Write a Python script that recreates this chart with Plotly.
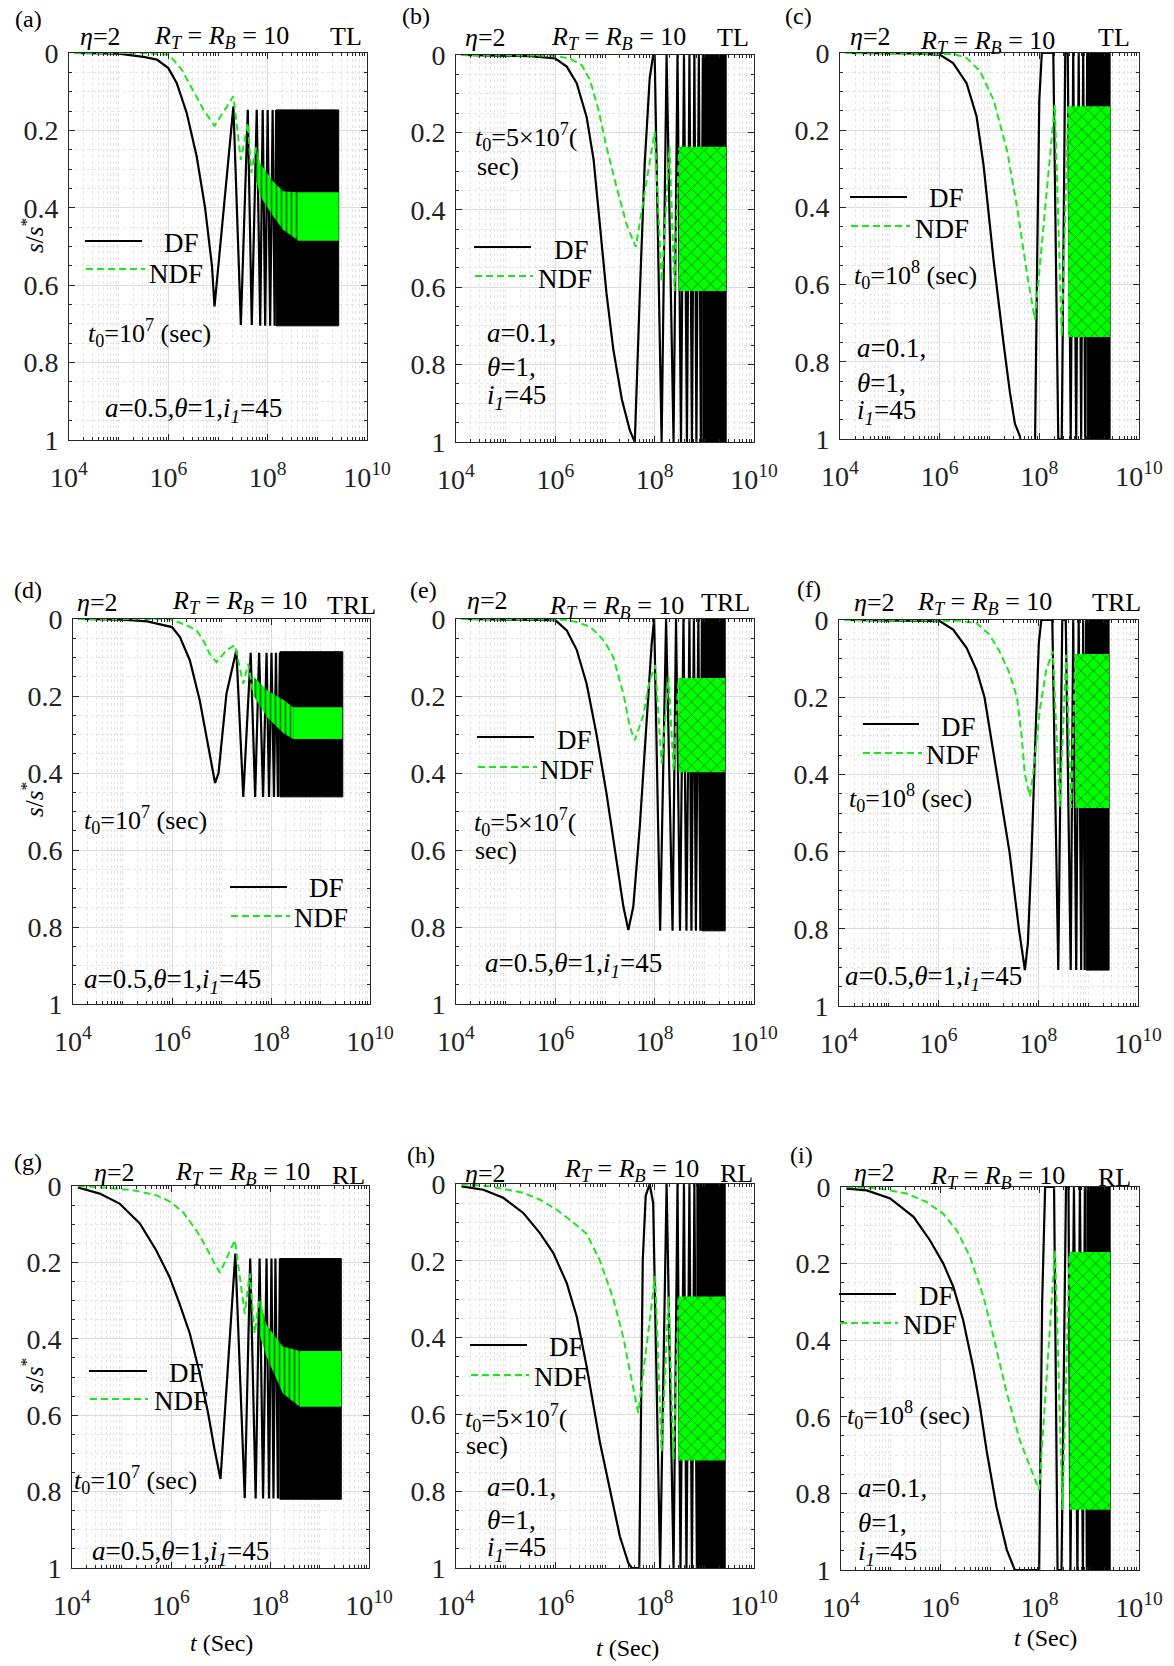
import plotly.graph_objects as go

W, H = 1174, 1666

# ================= DATA (x = log10 of t in sec, y = s/s*) =================
# ---- (a) TL, t0=1e7, a=0.5
df_a_logt = [4.1, 5.0, 5.5, 5.77, 6.0, 6.17, 6.37, 6.57, 6.74, 6.88, 6.93, 7.31, 7.46, 7.60, 7.68, 7.78, 7.85, 7.90, 7.95, 8.00, 8.05, 8.10, 8.14, 8.17]
df_a_s = [0.0, 0.002, 0.01, 0.017, 0.039, 0.078, 0.155, 0.267, 0.40, 0.552, 0.655, 0.138, 0.703, 0.147, 0.703, 0.147, 0.705, 0.147, 0.705, 0.147, 0.705, 0.147, 0.705, 0.147]
df_a_block = [8.17, 9.43, 0.147, 0.705]
ndf_a_logt = [4.1, 5.5, 6.0, 6.1, 6.27, 6.47, 6.71, 6.93, 7.31, 7.46, 7.60, 7.67, 7.77]
ndf_a_s = [0.0, 0.0, 0.004, 0.017, 0.043, 0.09, 0.147, 0.188, 0.112, 0.276, 0.181, 0.31, 0.24]
ndf_a_band_logt = [7.77, 7.85, 8.1, 8.31, 8.6]
ndf_a_band_top = [0.24, 0.285, 0.33, 0.357, 0.36]
ndf_a_band_bot = [0.33, 0.37, 0.42, 0.457, 0.483]
ndf_a_solid = [8.6, 9.43, 0.36, 0.485]

# ---- (b) TL, t0=5e7, a=0.1
df_b_logt = [4.1, 5.0, 5.5, 6.0, 6.23, 6.43, 6.63, 6.77, 6.9, 7.03, 7.17, 7.34, 7.5, 7.6, 7.7, 7.8, 7.9, 7.97, 8.0, 8.14, 8.24, 8.38, 8.46, 8.53, 8.59, 8.65, 8.70, 8.75, 8.80, 8.84, 8.89, 8.93, 8.97]
df_b_s = [0.0, 0.001, 0.003, 0.009, 0.03, 0.073, 0.16, 0.27, 0.44, 0.616, 0.763, 0.89, 0.97, 1.0, 0.62, 0.28, 0.06, 0.0, 0.0, 1.0, 0.0, 1.0, 0.0, 1.0, 0.0, 1.0, 0.0, 1.0, 0.0, 1.0, 0.0, 1.0, 0.0]
df_b_block = [8.97, 9.44, 0.0, 1.0]
ndf_b_logt = [4.1, 6.0, 6.29, 6.53, 6.7, 6.87, 7.03, 7.23, 7.44, 7.62, 8.0, 8.14, 8.3, 8.40, 8.49]
ndf_b_s = [0.0, 0.002, 0.009, 0.026, 0.065, 0.142, 0.237, 0.34, 0.44, 0.496, 0.198, 0.586, 0.237, 0.61, 0.24]
ndf_b_band = [8.49, 9.44, 0.237, 0.61]

# ---- (c) TL, t0=1e8, a=0.1
df_c_logt = [4.1, 5.5, 6.0, 6.27, 6.54, 6.74, 6.88, 7.08, 7.28, 7.41, 7.51, 7.61, 7.65, 7.91, 7.96, 8.0, 8.05, 8.28, 8.38, 8.45, 8.52, 8.57, 8.63, 8.68, 8.74, 8.79, 8.84, 8.88, 8.92, 8.96]
df_c_s = [0.0, 0.001, 0.004, 0.026, 0.078, 0.164, 0.29, 0.535, 0.75, 0.88, 0.96, 0.993, 1.05, 1.05, 0.5, 0.12, 0.0, 0.0, 1.0, 1.0, 0.0, 0.0, 1.0, 0.0, 1.0, 0.0, 1.0, 0.0, 1.0, 0.0]
df_c_block = [8.96, 9.42, 0.0, 1.0]
ndf_c_logt = [4.1, 6.3, 6.54, 6.81, 7.08, 7.35, 7.55, 7.75, 7.91, 8.31, 8.45, 8.58]
ndf_c_s = [0.0, 0.003, 0.013, 0.047, 0.121, 0.251, 0.397, 0.57, 0.69, 0.134, 0.734, 0.138]
ndf_c_band = [8.58, 9.42, 0.138, 0.736]

# ---- (d) TRL, t0=1e7, a=0.5
df_d_logt = [4.1, 5.0, 5.5, 6.0, 6.16, 6.36, 6.56, 6.7, 6.8, 6.87, 6.94, 7.1, 7.3, 7.44, 7.59, 7.68, 7.76, 7.84, 7.91, 7.96, 8.01, 8.06, 8.10, 8.14, 8.18]
df_d_s = [0.0, 0.002, 0.006, 0.021, 0.047, 0.107, 0.211, 0.306, 0.384, 0.426, 0.40, 0.194, 0.081, 0.462, 0.088, 0.462, 0.088, 0.462, 0.088, 0.462, 0.088, 0.462, 0.088, 0.462, 0.088]
df_d_block = [8.18, 9.45, 0.085, 0.462]
ndf_d_logt = [4.1, 5.9, 6.02, 6.29, 6.5, 6.63, 6.76, 6.9, 7.1, 7.27, 7.44, 7.54, 7.65]
ndf_d_s = [0.0, 0.0, 0.003, 0.016, 0.03, 0.055, 0.09, 0.112, 0.081, 0.068, 0.168, 0.116, 0.2]
ndf_d_band_logt = [7.65, 7.92, 8.25, 8.45]
ndf_d_band_top = [0.15, 0.185, 0.21, 0.229]
ndf_d_band_bot = [0.2, 0.255, 0.297, 0.312]
ndf_d_solid = [8.45, 9.44, 0.229, 0.312]

# ---- (e) TRL, t0=5e7, a=0.5
df_e_logt = [4.1, 5.0, 5.7, 6.0, 6.23, 6.43, 6.63, 6.83, 7.03, 7.23, 7.37, 7.47, 7.57, 7.7, 7.84, 7.94, 7.99, 8.11, 8.23, 8.36, 8.43, 8.51, 8.58, 8.64, 8.70, 8.74, 8.79, 8.83, 8.88, 8.92, 8.95]
df_e_s = [0.0, 0.001, 0.002, 0.003, 0.03, 0.08, 0.168, 0.3, 0.453, 0.626, 0.747, 0.808, 0.747, 0.54, 0.263, 0.064, 0.0, 0.81, 0.0, 0.81, 0.0, 0.81, 0.0, 0.81, 0.0, 0.81, 0.0, 0.81, 0.0, 0.81, 0.0]
df_e_block = [8.95, 9.42, 0.0, 0.81]
ndf_e_logt = [4.1, 6.2, 6.43, 6.7, 6.9, 7.0, 7.17, 7.38, 7.5, 7.6, 7.77, 7.9, 8.01, 8.14, 8.28, 8.38, 8.48]
ndf_e_s = [0.0, 0.002, 0.008, 0.02, 0.045, 0.06, 0.1, 0.2, 0.28, 0.315, 0.25, 0.16, 0.12, 0.375, 0.15, 0.393, 0.153]
ndf_e_band = [8.48, 9.42, 0.153, 0.398]

# ---- (f) TRL, t0=1e8, a=0.5
df_f_logt = [4.1, 5.5, 6.02, 6.29, 6.56, 6.76, 6.92, 7.17, 7.42, 7.61, 7.73, 7.79, 7.86, 7.95, 8.01, 8.06, 8.28, 8.40, 8.48, 8.55, 8.65, 8.70, 8.76, 8.81, 8.86, 8.90, 8.93, 8.96]
df_f_s = [0.0, 0.001, 0.003, 0.025, 0.072, 0.13, 0.2, 0.4, 0.6, 0.8, 0.907, 0.837, 0.62, 0.276, 0.06, 0.0, 0.0, 0.907, 0.0, 0.0, 0.907, 0.0, 0.907, 0.0, 0.907, 0.0, 0.907, 0.0]
df_f_block = [8.96, 9.42, 0.0, 0.907]
ndf_f_logt = [4.1, 6.4, 6.76, 7.02, 7.22, 7.42, 7.57, 7.66, 7.73, 7.83, 7.89, 8.03, 8.16, 8.29, 8.43, 8.56, 8.66, 8.74]
ndf_f_s = [0.0, 0.002, 0.008, 0.038, 0.081, 0.137, 0.2, 0.294, 0.40, 0.457, 0.405, 0.232, 0.129, 0.081, 0.483, 0.09, 0.487, 0.088]
ndf_f_band = [8.74, 9.42, 0.088, 0.487]

# ---- (g) RL, t0=1e7, a=0.5
df_g_logt = [4.12, 4.56, 4.96, 5.37, 5.7, 5.97, 6.17, 6.38, 6.58, 6.75, 6.88, 7.0, 7.3, 7.49, 7.6, 7.71, 7.79, 7.86, 7.93, 7.98, 8.03, 8.07, 8.11, 8.16, 8.2]
df_g_s = [0.004, 0.02, 0.046, 0.098, 0.168, 0.238, 0.307, 0.386, 0.49, 0.595, 0.69, 0.767, 0.177, 0.817, 0.19, 0.818, 0.19, 0.818, 0.19, 0.818, 0.19, 0.818, 0.19, 0.818, 0.19]
df_g_block = [8.2, 9.44, 0.19, 0.82]
ndf_g_logt = [4.12, 4.56, 5.23, 5.7, 5.97, 6.24, 6.51, 6.71, 6.88, 6.99, 7.29, 7.49, 7.59, 7.69, 7.79]
ndf_g_s = [0.0, 0.003, 0.011, 0.024, 0.04, 0.068, 0.116, 0.16, 0.203, 0.227, 0.142, 0.334, 0.229, 0.386, 0.29]
ndf_g_band_logt = [7.79, 7.93, 8.26, 8.6]
ndf_g_band_top = [0.29, 0.364, 0.42, 0.432]
ndf_g_band_bot = [0.39, 0.447, 0.543, 0.578]
ndf_g_solid = [8.6, 9.44, 0.432, 0.578]

# ---- (h) RL, t0=5e7, a=0.1
df_h_logt = [4.11, 4.55, 4.95, 5.36, 5.69, 5.96, 6.23, 6.43, 6.63, 6.77, 6.9, 7.1, 7.3, 7.47, 7.54, 7.69, 7.72, 7.76, 7.82, 7.9, 7.97, 8.11, 8.24, 8.38, 8.46, 8.52, 8.59, 8.64, 8.70, 8.75, 8.80, 8.85]
df_h_s = [0.006, 0.015, 0.036, 0.076, 0.128, 0.18, 0.258, 0.345, 0.475, 0.579, 0.674, 0.796, 0.918, 0.987, 1.0, 1.0, 0.6, 0.2, 0.03, 0.0, 0.05, 1.0, 0.0, 1.0, 0.0, 1.0, 0.0, 1.0, 0.0, 1.0, 0.0, 1.0]
df_h_block = [8.85, 9.42, 0.0, 1.0]
ndf_h_logt = [4.11, 4.68, 5.36, 5.69, 6.03, 6.36, 6.63, 6.9, 7.17, 7.37, 7.52, 7.67, 8.01, 8.14, 8.28, 8.38, 8.48]
ndf_h_s = [0.0, 0.006, 0.023, 0.041, 0.067, 0.1, 0.13, 0.2, 0.3, 0.4, 0.5, 0.596, 0.24, 0.696, 0.293, 0.718, 0.293]
ndf_h_band = [8.48, 9.42, 0.293, 0.72]

# ---- (i) RL, t0=1e8, a=0.1
df_i_logt = [4.11, 4.52, 4.99, 5.46, 5.79, 6.06, 6.26, 6.46, 6.66, 6.8, 6.93, 7.13, 7.34, 7.5, 7.99, 8.05, 8.11, 8.29, 8.36, 8.44, 8.53, 8.58, 8.62, 8.69, 8.76, 8.81, 8.87, 8.91, 8.95]
df_i_s = [0.004, 0.009, 0.03, 0.078, 0.139, 0.2, 0.26, 0.348, 0.47, 0.574, 0.687, 0.835, 0.948, 1.0, 1.0, 0.3, 0.0, 0.0, 1.0, 1.0, 0.0, 0.0, 1.0, 0.0, 1.0, 0.0, 1.0, 0.0, 1.0]
df_i_block = [8.95, 9.42, 0.0, 1.0]
ndf_i_logt = [4.11, 4.79, 5.32, 5.72, 6.06, 6.33, 6.6, 6.87, 7.07, 7.34, 7.6, 7.87, 7.99, 8.31, 8.46, 8.6]
ndf_i_s = [0.0, 0.004, 0.017, 0.039, 0.07, 0.113, 0.183, 0.287, 0.391, 0.539, 0.661, 0.748, 0.791, 0.165, 0.843, 0.174]
ndf_i_band = [8.6, 9.42, 0.17, 0.843]

# tick labels
x_tickvals = [1e4, 1e6, 1e8, 1e10]
x_ticktext = ["10<sup>4</sup>", "10<sup>6</sup>", "10<sup>8</sup>", "10<sup>10</sup>"]
y_tickvals = [0, 0.2, 0.4, 0.6, 0.8, 1]
y_ticktext = ["0", "0.2", "0.4", "0.6", "0.8", "1"]

# ================= LAYOUT HELPERS =================
FONT = "Liberation Serif, Times New Roman, serif"
GREEN_LINE = "#1ee61e"
GREEN_FILL = "#00ff00"
AX = "#262626"

def px(x):
    return x / W

def py(y):
    return 1 - y / H

# panel domains in pixels: left, right, top, bottom
domains = [
    (69, 367, 53, 440), (456, 754, 55, 442), (840, 1139, 53, 439),
    (73, 370, 619, 1004), (456, 754, 619, 1004), (839, 1138, 620, 1006),
    (72, 369, 1186, 1568), (456, 754, 1184, 1568), (841, 1139, 1187, 1570),
]

panels = [
    dict(df=(df_a_logt, df_a_s), blk=df_a_block, ndf=(ndf_a_logt, ndf_a_s),
         trans=(ndf_a_band_logt, ndf_a_band_top, ndf_a_band_bot), solid=ndf_a_solid, band=None),
    dict(df=(df_b_logt, df_b_s), blk=df_b_block, ndf=(ndf_b_logt, ndf_b_s), trans=None, solid=None, band=ndf_b_band),
    dict(df=(df_c_logt, df_c_s), blk=df_c_block, ndf=(ndf_c_logt, ndf_c_s), trans=None, solid=None, band=ndf_c_band),
    dict(df=(df_d_logt, df_d_s), blk=df_d_block, ndf=(ndf_d_logt, ndf_d_s),
         trans=(ndf_d_band_logt, ndf_d_band_top, ndf_d_band_bot), solid=ndf_d_solid, band=None),
    dict(df=(df_e_logt, df_e_s), blk=df_e_block, ndf=(ndf_e_logt, ndf_e_s), trans=None, solid=None, band=ndf_e_band),
    dict(df=(df_f_logt, df_f_s), blk=df_f_block, ndf=(ndf_f_logt, ndf_f_s), trans=None, solid=None, band=ndf_f_band),
    dict(df=(df_g_logt, df_g_s), blk=df_g_block, ndf=(ndf_g_logt, ndf_g_s),
         trans=(ndf_g_band_logt, ndf_g_band_top, ndf_g_band_bot), solid=ndf_g_solid, band=None),
    dict(df=(df_h_logt, df_h_s), blk=df_h_block, ndf=(ndf_h_logt, ndf_h_s), trans=None, solid=None, band=ndf_h_band),
    dict(df=(df_i_logt, df_i_s), blk=df_i_block, ndf=(ndf_i_logt, ndf_i_s), trans=None, solid=None, band=ndf_i_band),
]

def poly(xs_log, top, bot):
    xs = [10 ** v for v in xs_log] + [10 ** v for v in reversed(xs_log)]
    ys = list(top) + list(reversed(bot))
    return xs + [xs[0]], ys + [ys[0]]

def rect(b):
    x0, x1, t, bm = b
    return poly([x0, x1], [t, t], [bm, bm])

minor_x = []
for e in range(4, 10):
    for d in range(1, 10):
        v = d * 10 ** e
        if d == 1 and e % 2 == 0:
            continue
        minor_x.append(v)

fig = go.Figure()

for i, p in enumerate(panels):
    n = i + 1
    xa = "x" if n == 1 else f"x{n}"
    ya = "y" if n == 1 else f"y{n}"
    common = dict(xaxis=xa, yaxis=ya, hoverinfo="skip", showlegend=False)
    # DF oscillation block
    bx, by = rect(p["blk"])
    fig.add_trace(go.Scatter(x=bx, y=by, mode="lines", fill="toself", fillcolor="black",
                             line=dict(color="black", width=1), **common))
    # DF line
    fig.add_trace(go.Scatter(x=[10 ** v for v in p["df"][0]], y=p["df"][1], mode="lines",
                             line=dict(color="black", width=2.2), **common))
    # NDF bands
    if p["trans"] is not None:
        tx, ty = poly(*p["trans"])
        fig.add_trace(go.Scatter(x=tx, y=ty, mode="lines", fill="toself", fillcolor=GREEN_FILL,
                                 fillpattern=dict(shape="|", fgcolor="black", bgcolor=GREEN_FILL,
                                                  size=5, solidity=0.35),
                                 line=dict(width=0, color=GREEN_FILL), **common))
        sx, sy = rect(p["solid"])
        fig.add_trace(go.Scatter(x=sx, y=sy, mode="lines", fill="toself", fillcolor=GREEN_FILL,
                                 line=dict(width=0, color=GREEN_FILL), **common))
    if p["band"] is not None:
        bx2, by2 = rect(p["band"])
        fig.add_trace(go.Scatter(x=bx2, y=by2, mode="lines", fill="toself", fillcolor=GREEN_FILL,
                                 fillpattern=dict(shape="x", fgcolor="black", bgcolor=GREEN_FILL,
                                                  size=9, solidity=0.18),
                                 line=dict(width=0, color=GREEN_FILL), **common))
    # NDF line
    fig.add_trace(go.Scatter(x=[10 ** v for v in p["ndf"][0]], y=p["ndf"][1], mode="lines",
                             line=dict(color=GREEN_LINE, width=2, dash="7px,4px"), **common))

    l, r, t, b = domains[i]
    xkey = "xaxis" if n == 1 else f"xaxis{n}"
    ykey = "yaxis" if n == 1 else f"yaxis{n}"
    fig.layout[xkey] = dict(
        type="log", range=[4, 10], domain=[px(l), px(r)], anchor=ya, automargin=False,
        tickmode="array", tickvals=x_tickvals, ticktext=x_ticktext,
        ticks="inside", ticklen=6, tickwidth=1, tickcolor=AX,
        showline=True, linecolor=AX, linewidth=1, mirror="ticks",
        showgrid=True, gridcolor="#dcdcdc", gridwidth=1, zeroline=False,
        tickfont=dict(family=FONT, size=28, color="#222222"),
        ticklabelstandoff=12,
        minor=dict(tickmode="array", tickvals=minor_x, ticks="inside", ticklen=3, tickcolor=AX,
                   showgrid=True, gridcolor="#e4e4e4", griddash="dot", gridwidth=1),
    )
    fig.layout[ykey] = dict(
        range=[1, 0], domain=[py(b), py(t)], anchor=xa, automargin=False,
        tickmode="array", tickvals=y_tickvals, ticktext=y_ticktext,
        ticks="inside", ticklen=6, tickwidth=1, tickcolor=AX,
        showline=True, linecolor=AX, linewidth=1, mirror="ticks",
        showgrid=True, gridcolor="#dcdcdc", gridwidth=1, zeroline=False,
        tickfont=dict(family=FONT, size=28, color="#222222"),
        ticklabelstandoff=4,
        minor=dict(dtick=0.05, tick0=0, ticks="inside", ticklen=3, tickcolor=AX,
                   showgrid=True, gridcolor="#e4e4e4", griddash="dot", gridwidth=1),
    )

# ================= TEXT =================
ETA = "<i>η</i>=2"
RTB = "<i>R<sub>T</sub></i> = <i>R<sub>B</sub></i> = 10"
T07 = "<i>t</i><sub>0</sub>=10<sup>7</sup> (sec)"
T08 = "<i>t</i><sub>0</sub>=10<sup>8</sup> (sec)"
T57 = "<i>t</i><sub>0</sub>=5×10<sup>7</sup>("
SEC = "sec)"
P05 = "<i>a</i>=0.5,<i>θ</i>=1,<i>i</i><sub><i>1</i></sub>=45"
A01 = "<i>a</i>=0.1,"
TH1 = "<i>θ</i>=1,"
I45 = "<i>i</i><sub><i>1</i></sub>=45"

HS, LS, TS, PS, LBL = 26, 27, 26, 27, 24  # header, legend, t0, params, panel letter sizes

texts = [
    # (a)
    ("(a)", 13, 19, "left", LBL), (ETA, 78, 37, "left", HS), (RTB, 152, 37, "left", HS), ("TL", 364, 37, "right", HS),
    ("DF", 162, 243, "left", LS), ("NDF", 147, 274, "left", LS), (T07, 86, 333, "left", TS), (P05, 103, 410, "left", PS),
    # (b)
    ("(b)", 400, 16, "left", LBL), (ETA, 463, 38, "left", HS), (RTB, 549, 38, "left", HS), ("TL", 751, 38, "right", HS),
    (T57, 473, 137, "left", TS), (SEC, 475, 166, "left", TS), ("DF", 552, 250, "left", LS), ("NDF", 536, 279, "left", LS),
    (A01, 485, 333, "left", PS), (TH1, 485, 367, "left", PS), (I45, 485, 397, "left", PS),
    # (c)
    ("(c)", 783, 16, "left", LBL), (ETA, 848, 37, "left", HS), (RTB, 918, 42, "left", HS), ("TL", 1132, 38, "right", HS),
    ("DF", 927, 198, "left", LS), ("NDF", 913, 229, "left", LS), (T08, 852, 275, "left", TS),
    (A01, 855, 348, "left", PS), (TH1, 855, 383, "left", PS), (I45, 855, 412, "left", PS),
    # (d)
    ("(d)", 12, 590, "left", LBL), (ETA, 75, 602, "left", HS), (RTB, 170, 602, "left", HS), ("TRL", 378, 605, "right", HS),
    (T07, 82, 820, "left", TS), ("DF", 307, 888, "left", LS), ("NDF", 292, 918, "left", LS), (P05, 82, 981, "left", PS),
    # (e)
    ("(e)", 408, 590, "left", LBL), (ETA, 465, 600, "left", HS), (RTB, 547, 607, "left", HS), ("TRL", 752, 602, "right", HS),
    ("DF", 555, 740, "left", LS), ("NDF", 538, 770, "left", LS), (T57, 472, 822, "left", TS), (SEC, 473, 850, "left", TS),
    (P05, 483, 965, "left", PS),
    # (f)
    ("(f)", 795, 589, "left", LBL), (ETA, 852, 603, "left", HS), (RTB, 915, 603, "left", HS), ("TRL", 1143, 603, "right", HS),
    ("DF", 939, 727, "left", LS), ("NDF", 924, 755, "left", LS), (T08, 847, 798, "left", TS), (P05, 843, 978, "left", PS),
    # (g)
    ("(g)", 12, 1162, "left", LBL), (ETA, 92, 1172, "left", HS), (RTB, 173, 1173, "left", HS), ("RL", 367, 1175, "right", HS),
    ("DF", 167, 1373, "left", LS), ("NDF", 152, 1401, "left", LS), (T07, 72, 1480, "left", TS), (P05, 90, 1553, "left", PS),
    # (h)
    ("(h)", 405, 1155, "left", LBL), (ETA, 463, 1173, "left", HS), (RTB, 562, 1170, "left", HS), ("RL", 755, 1173, "right", HS),
    ("DF", 547, 1347, "left", LS), ("NDF", 532, 1377, "left", LS), (T57, 463, 1418, "left", TS), (SEC, 464, 1445, "left", TS),
    (A01, 485, 1487, "left", PS), (TH1, 485, 1520, "left", PS), (I45, 485, 1549, "left", PS),
    # (i)
    ("(i)", 788, 1155, "left", LBL), (ETA, 852, 1172, "left", HS), (RTB, 928, 1177, "left", HS), ("RL", 1133, 1177, "right", HS),
    ("DF", 917, 1296, "left", LS), ("NDF", 901, 1325, "left", LS), (T08, 845, 1415, "left", TS),
    (A01, 856, 1488, "left", PS), (TH1, 856, 1523, "left", PS), (I45, 856, 1553, "left", PS),
    # x-axis titles
    ("<i>t</i> (Sec)", 221, 1643, "center", 24), ("<i>t</i> (Sec)", 627, 1648, "center", 24),
    ("<i>t</i> (Sec)", 1045, 1638, "center", 24),
]

annotations = []
for txt, x, y, anc, size in texts:
    annotations.append(dict(text=txt, x=px(x), y=py(y), xref="paper", yref="paper",
                            xanchor=anc, yanchor="middle", showarrow=False,
                            font=dict(family=FONT, size=size, color="black")))
for y in (236, 800, 1376):
    annotations.append(dict(text="<i>s</i>/<i>s</i><sup>*</sup>", x=px(32), y=py(y), xref="paper", yref="paper",
                            xanchor="center", yanchor="middle", showarrow=False, textangle=-90,
                            font=dict(family=FONT, size=25, color="black")))

# legend line samples (x0, x1, y) for DF and NDF
leg_df = [(85, 142, 241), (474, 531, 247), (850, 907, 197), (230, 287, 887), (477, 534, 737),
          (863, 919, 724), (89, 147, 1371), (470, 527, 1345), (839, 896, 1294)]
leg_ndf = [(86, 145, 269), (475, 533, 276), (851, 910, 226), (231, 290, 916), (478, 537, 767),
           (863, 922, 753), (90, 148, 1399), (471, 529, 1375), (840, 898, 1323)]
shapes = []
for x0, x1, y in leg_df:
    shapes.append(dict(type="line", xref="paper", yref="paper", x0=px(x0), x1=px(x1), y0=py(y), y1=py(y),
                       line=dict(color="black", width=2.2)))
for x0, x1, y in leg_ndf:
    shapes.append(dict(type="line", xref="paper", yref="paper", x0=px(x0), x1=px(x1), y0=py(y), y1=py(y),
                       line=dict(color=GREEN_LINE, width=2, dash="7px,4px")))

fig.update_layout(width=W, height=H, margin=dict(l=0, r=0, t=0, b=0, autoexpand=False),
                  paper_bgcolor="white", plot_bgcolor="white",
                  font=dict(family=FONT, color="black"),
                  annotations=annotations, shapes=shapes, showlegend=False)

fig.write_html("out.html", config={"displayModeBar": False},
               post_script="document.body.style.margin='0px';document.body.style.overflow='hidden';")
